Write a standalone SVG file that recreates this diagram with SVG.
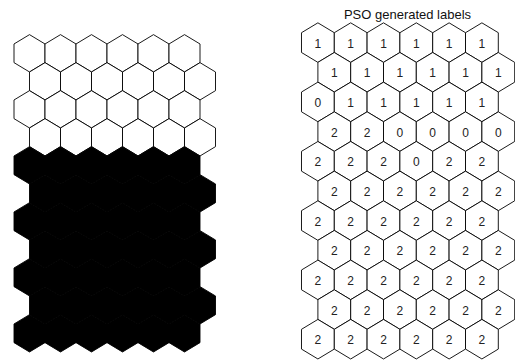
<svg xmlns="http://www.w3.org/2000/svg" xmlns:xlink="http://www.w3.org/1999/xlink" width="515" height="362" viewBox="0 0 515 362">
<defs>
<style>
.w{fill:#fff;stroke:#000;stroke-width:0.9;stroke-linejoin:miter}
.b{fill:#000;stroke:#000;stroke-width:0.9}
.t{font-family:"Liberation Sans",Arial,sans-serif;font-size:12px;fill:#222;text-anchor:middle}
.ttl{font-family:"Liberation Sans",Arial,sans-serif;font-size:13px;fill:#111;text-anchor:middle}
</style>
<polygon id="hL" points="0,-18.67 15.5,-9.33 15.5,9.33 0,18.67 -15.5,9.33 -15.5,-9.33"/>
<polygon id="hR" points="0,-19.77 16.4,-9.89 16.4,9.89 0,19.77 -16.4,9.89 -16.4,-9.89"/>
</defs>
<rect width="515" height="362" fill="#fff"/>
<g id="left-map">
<g id="L0-0" transform="translate(29.5,53.3)"><use href="#hL" class="w"/></g>
<g id="L0-1" transform="translate(60.5,53.3)"><use href="#hL" class="w"/></g>
<g id="L0-2" transform="translate(91.5,53.3)"><use href="#hL" class="w"/></g>
<g id="L0-3" transform="translate(122.5,53.3)"><use href="#hL" class="w"/></g>
<g id="L0-4" transform="translate(153.5,53.3)"><use href="#hL" class="w"/></g>
<g id="L0-5" transform="translate(184.5,53.3)"><use href="#hL" class="w"/></g>
<g id="L1-0" transform="translate(45,81.3)"><use href="#hL" class="w"/></g>
<g id="L1-1" transform="translate(76,81.3)"><use href="#hL" class="w"/></g>
<g id="L1-2" transform="translate(107,81.3)"><use href="#hL" class="w"/></g>
<g id="L1-3" transform="translate(138,81.3)"><use href="#hL" class="w"/></g>
<g id="L1-4" transform="translate(169,81.3)"><use href="#hL" class="w"/></g>
<g id="L1-5" transform="translate(200,81.3)"><use href="#hL" class="w"/></g>
<g id="L2-0" transform="translate(29.5,109.3)"><use href="#hL" class="w"/></g>
<g id="L2-1" transform="translate(60.5,109.3)"><use href="#hL" class="w"/></g>
<g id="L2-2" transform="translate(91.5,109.3)"><use href="#hL" class="w"/></g>
<g id="L2-3" transform="translate(122.5,109.3)"><use href="#hL" class="w"/></g>
<g id="L2-4" transform="translate(153.5,109.3)"><use href="#hL" class="w"/></g>
<g id="L2-5" transform="translate(184.5,109.3)"><use href="#hL" class="w"/></g>
<g id="L3-0" transform="translate(45,137.3)"><use href="#hL" class="w"/></g>
<g id="L3-1" transform="translate(76,137.3)"><use href="#hL" class="w"/></g>
<g id="L3-2" transform="translate(107,137.3)"><use href="#hL" class="w"/></g>
<g id="L3-3" transform="translate(138,137.3)"><use href="#hL" class="w"/></g>
<g id="L3-4" transform="translate(169,137.3)"><use href="#hL" class="w"/></g>
<g id="L3-5" transform="translate(200,137.3)"><use href="#hL" class="w"/></g>
<g id="L4-0" transform="translate(29.5,165.3)"><use href="#hL" class="b"/></g>
<g id="L4-1" transform="translate(60.5,165.3)"><use href="#hL" class="b"/></g>
<g id="L4-2" transform="translate(91.5,165.3)"><use href="#hL" class="b"/></g>
<g id="L4-3" transform="translate(122.5,165.3)"><use href="#hL" class="b"/></g>
<g id="L4-4" transform="translate(153.5,165.3)"><use href="#hL" class="b"/></g>
<g id="L4-5" transform="translate(184.5,165.3)"><use href="#hL" class="b"/></g>
<g id="L5-0" transform="translate(45,193.3)"><use href="#hL" class="b"/></g>
<g id="L5-1" transform="translate(76,193.3)"><use href="#hL" class="b"/></g>
<g id="L5-2" transform="translate(107,193.3)"><use href="#hL" class="b"/></g>
<g id="L5-3" transform="translate(138,193.3)"><use href="#hL" class="b"/></g>
<g id="L5-4" transform="translate(169,193.3)"><use href="#hL" class="b"/></g>
<g id="L5-5" transform="translate(200,193.3)"><use href="#hL" class="b"/></g>
<g id="L6-0" transform="translate(29.5,221.3)"><use href="#hL" class="b"/></g>
<g id="L6-1" transform="translate(60.5,221.3)"><use href="#hL" class="b"/></g>
<g id="L6-2" transform="translate(91.5,221.3)"><use href="#hL" class="b"/></g>
<g id="L6-3" transform="translate(122.5,221.3)"><use href="#hL" class="b"/></g>
<g id="L6-4" transform="translate(153.5,221.3)"><use href="#hL" class="b"/></g>
<g id="L6-5" transform="translate(184.5,221.3)"><use href="#hL" class="b"/></g>
<g id="L7-0" transform="translate(45,249.3)"><use href="#hL" class="b"/></g>
<g id="L7-1" transform="translate(76,249.3)"><use href="#hL" class="b"/></g>
<g id="L7-2" transform="translate(107,249.3)"><use href="#hL" class="b"/></g>
<g id="L7-3" transform="translate(138,249.3)"><use href="#hL" class="b"/></g>
<g id="L7-4" transform="translate(169,249.3)"><use href="#hL" class="b"/></g>
<g id="L7-5" transform="translate(200,249.3)"><use href="#hL" class="b"/></g>
<g id="L8-0" transform="translate(29.5,277.3)"><use href="#hL" class="b"/></g>
<g id="L8-1" transform="translate(60.5,277.3)"><use href="#hL" class="b"/></g>
<g id="L8-2" transform="translate(91.5,277.3)"><use href="#hL" class="b"/></g>
<g id="L8-3" transform="translate(122.5,277.3)"><use href="#hL" class="b"/></g>
<g id="L8-4" transform="translate(153.5,277.3)"><use href="#hL" class="b"/></g>
<g id="L8-5" transform="translate(184.5,277.3)"><use href="#hL" class="b"/></g>
<g id="L9-0" transform="translate(45,305.3)"><use href="#hL" class="b"/></g>
<g id="L9-1" transform="translate(76,305.3)"><use href="#hL" class="b"/></g>
<g id="L9-2" transform="translate(107,305.3)"><use href="#hL" class="b"/></g>
<g id="L9-3" transform="translate(138,305.3)"><use href="#hL" class="b"/></g>
<g id="L9-4" transform="translate(169,305.3)"><use href="#hL" class="b"/></g>
<g id="L9-5" transform="translate(200,305.3)"><use href="#hL" class="b"/></g>
<g id="L10-0" transform="translate(29.5,333.3)"><use href="#hL" class="b"/></g>
<g id="L10-1" transform="translate(60.5,333.3)"><use href="#hL" class="b"/></g>
<g id="L10-2" transform="translate(91.5,333.3)"><use href="#hL" class="b"/></g>
<g id="L10-3" transform="translate(122.5,333.3)"><use href="#hL" class="b"/></g>
<g id="L10-4" transform="translate(153.5,333.3)"><use href="#hL" class="b"/></g>
<g id="L10-5" transform="translate(184.5,333.3)"><use href="#hL" class="b"/></g>
</g>
<text class="ttl" x="407.5" y="19.3">PSO generated labels</text>
<g id="right-map">
<g id="R0-0" transform="translate(317.9,42.6)"><use href="#hR" class="w"/><text class="t" y="5">1</text></g>
<g id="R0-1" transform="translate(350.7,42.6)"><use href="#hR" class="w"/><text class="t" y="5">1</text></g>
<g id="R0-2" transform="translate(383.5,42.6)"><use href="#hR" class="w"/><text class="t" y="5">1</text></g>
<g id="R0-3" transform="translate(416.3,42.6)"><use href="#hR" class="w"/><text class="t" y="5">1</text></g>
<g id="R0-4" transform="translate(449.1,42.6)"><use href="#hR" class="w"/><text class="t" y="5">1</text></g>
<g id="R0-5" transform="translate(481.9,42.6)"><use href="#hR" class="w"/><text class="t" y="5">1</text></g>
<g id="R1-0" transform="translate(334.3,72.26)"><use href="#hR" class="w"/><text class="t" y="5">1</text></g>
<g id="R1-1" transform="translate(367.1,72.26)"><use href="#hR" class="w"/><text class="t" y="5">1</text></g>
<g id="R1-2" transform="translate(399.9,72.26)"><use href="#hR" class="w"/><text class="t" y="5">1</text></g>
<g id="R1-3" transform="translate(432.7,72.26)"><use href="#hR" class="w"/><text class="t" y="5">1</text></g>
<g id="R1-4" transform="translate(465.5,72.26)"><use href="#hR" class="w"/><text class="t" y="5">1</text></g>
<g id="R1-5" transform="translate(498.3,72.26)"><use href="#hR" class="w"/><text class="t" y="5">1</text></g>
<g id="R2-0" transform="translate(317.9,101.92)"><use href="#hR" class="w"/><text class="t" y="5">0</text></g>
<g id="R2-1" transform="translate(350.7,101.92)"><use href="#hR" class="w"/><text class="t" y="5">1</text></g>
<g id="R2-2" transform="translate(383.5,101.92)"><use href="#hR" class="w"/><text class="t" y="5">1</text></g>
<g id="R2-3" transform="translate(416.3,101.92)"><use href="#hR" class="w"/><text class="t" y="5">1</text></g>
<g id="R2-4" transform="translate(449.1,101.92)"><use href="#hR" class="w"/><text class="t" y="5">1</text></g>
<g id="R2-5" transform="translate(481.9,101.92)"><use href="#hR" class="w"/><text class="t" y="5">1</text></g>
<g id="R3-0" transform="translate(334.3,131.58)"><use href="#hR" class="w"/><text class="t" y="5">2</text></g>
<g id="R3-1" transform="translate(367.1,131.58)"><use href="#hR" class="w"/><text class="t" y="5">2</text></g>
<g id="R3-2" transform="translate(399.9,131.58)"><use href="#hR" class="w"/><text class="t" y="5">0</text></g>
<g id="R3-3" transform="translate(432.7,131.58)"><use href="#hR" class="w"/><text class="t" y="5">0</text></g>
<g id="R3-4" transform="translate(465.5,131.58)"><use href="#hR" class="w"/><text class="t" y="5">0</text></g>
<g id="R3-5" transform="translate(498.3,131.58)"><use href="#hR" class="w"/><text class="t" y="5">0</text></g>
<g id="R4-0" transform="translate(317.9,161.24)"><use href="#hR" class="w"/><text class="t" y="5">2</text></g>
<g id="R4-1" transform="translate(350.7,161.24)"><use href="#hR" class="w"/><text class="t" y="5">2</text></g>
<g id="R4-2" transform="translate(383.5,161.24)"><use href="#hR" class="w"/><text class="t" y="5">2</text></g>
<g id="R4-3" transform="translate(416.3,161.24)"><use href="#hR" class="w"/><text class="t" y="5">0</text></g>
<g id="R4-4" transform="translate(449.1,161.24)"><use href="#hR" class="w"/><text class="t" y="5">2</text></g>
<g id="R4-5" transform="translate(481.9,161.24)"><use href="#hR" class="w"/><text class="t" y="5">2</text></g>
<g id="R5-0" transform="translate(334.3,190.9)"><use href="#hR" class="w"/><text class="t" y="5">2</text></g>
<g id="R5-1" transform="translate(367.1,190.9)"><use href="#hR" class="w"/><text class="t" y="5">2</text></g>
<g id="R5-2" transform="translate(399.9,190.9)"><use href="#hR" class="w"/><text class="t" y="5">2</text></g>
<g id="R5-3" transform="translate(432.7,190.9)"><use href="#hR" class="w"/><text class="t" y="5">2</text></g>
<g id="R5-4" transform="translate(465.5,190.9)"><use href="#hR" class="w"/><text class="t" y="5">2</text></g>
<g id="R5-5" transform="translate(498.3,190.9)"><use href="#hR" class="w"/><text class="t" y="5">2</text></g>
<g id="R6-0" transform="translate(317.9,220.56)"><use href="#hR" class="w"/><text class="t" y="5">2</text></g>
<g id="R6-1" transform="translate(350.7,220.56)"><use href="#hR" class="w"/><text class="t" y="5">2</text></g>
<g id="R6-2" transform="translate(383.5,220.56)"><use href="#hR" class="w"/><text class="t" y="5">2</text></g>
<g id="R6-3" transform="translate(416.3,220.56)"><use href="#hR" class="w"/><text class="t" y="5">2</text></g>
<g id="R6-4" transform="translate(449.1,220.56)"><use href="#hR" class="w"/><text class="t" y="5">2</text></g>
<g id="R6-5" transform="translate(481.9,220.56)"><use href="#hR" class="w"/><text class="t" y="5">2</text></g>
<g id="R7-0" transform="translate(334.3,250.22)"><use href="#hR" class="w"/><text class="t" y="5">2</text></g>
<g id="R7-1" transform="translate(367.1,250.22)"><use href="#hR" class="w"/><text class="t" y="5">2</text></g>
<g id="R7-2" transform="translate(399.9,250.22)"><use href="#hR" class="w"/><text class="t" y="5">2</text></g>
<g id="R7-3" transform="translate(432.7,250.22)"><use href="#hR" class="w"/><text class="t" y="5">2</text></g>
<g id="R7-4" transform="translate(465.5,250.22)"><use href="#hR" class="w"/><text class="t" y="5">2</text></g>
<g id="R7-5" transform="translate(498.3,250.22)"><use href="#hR" class="w"/><text class="t" y="5">2</text></g>
<g id="R8-0" transform="translate(317.9,279.88)"><use href="#hR" class="w"/><text class="t" y="5">2</text></g>
<g id="R8-1" transform="translate(350.7,279.88)"><use href="#hR" class="w"/><text class="t" y="5">2</text></g>
<g id="R8-2" transform="translate(383.5,279.88)"><use href="#hR" class="w"/><text class="t" y="5">2</text></g>
<g id="R8-3" transform="translate(416.3,279.88)"><use href="#hR" class="w"/><text class="t" y="5">2</text></g>
<g id="R8-4" transform="translate(449.1,279.88)"><use href="#hR" class="w"/><text class="t" y="5">2</text></g>
<g id="R8-5" transform="translate(481.9,279.88)"><use href="#hR" class="w"/><text class="t" y="5">2</text></g>
<g id="R9-0" transform="translate(334.3,309.54)"><use href="#hR" class="w"/><text class="t" y="5">2</text></g>
<g id="R9-1" transform="translate(367.1,309.54)"><use href="#hR" class="w"/><text class="t" y="5">2</text></g>
<g id="R9-2" transform="translate(399.9,309.54)"><use href="#hR" class="w"/><text class="t" y="5">2</text></g>
<g id="R9-3" transform="translate(432.7,309.54)"><use href="#hR" class="w"/><text class="t" y="5">2</text></g>
<g id="R9-4" transform="translate(465.5,309.54)"><use href="#hR" class="w"/><text class="t" y="5">2</text></g>
<g id="R9-5" transform="translate(498.3,309.54)"><use href="#hR" class="w"/><text class="t" y="5">2</text></g>
<g id="R10-0" transform="translate(317.9,339.2)"><use href="#hR" class="w"/><text class="t" y="5">2</text></g>
<g id="R10-1" transform="translate(350.7,339.2)"><use href="#hR" class="w"/><text class="t" y="5">2</text></g>
<g id="R10-2" transform="translate(383.5,339.2)"><use href="#hR" class="w"/><text class="t" y="5">2</text></g>
<g id="R10-3" transform="translate(416.3,339.2)"><use href="#hR" class="w"/><text class="t" y="5">2</text></g>
<g id="R10-4" transform="translate(449.1,339.2)"><use href="#hR" class="w"/><text class="t" y="5">2</text></g>
<g id="R10-5" transform="translate(481.9,339.2)"><use href="#hR" class="w"/><text class="t" y="5">2</text></g>
</g>
<g id="connectors"/>
</svg>
